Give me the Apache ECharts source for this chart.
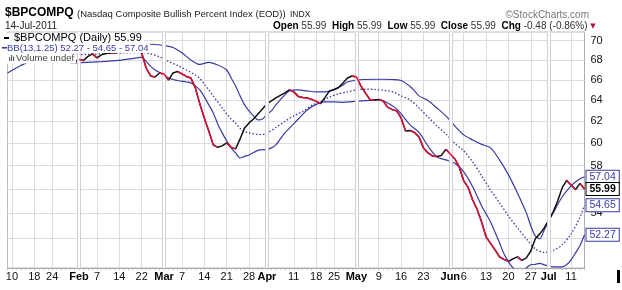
<!DOCTYPE html>
<html>
<head>
<meta charset="utf-8">
<title>$BPCOMPQ</title>
<script src="https://cdn.jsdelivr.net/npm/echarts@6/dist/echarts.min.js"></script>
<style>
html, body { margin: 0; padding: 0; background: #fff; }
#main { width: 622px; height: 290px; }
</style>
</head>
<body>
<div id="main"></div>
<script type="text/javascript">
// trading days, 2011-01-07 .. 2011-07-14 (NYSE holidays skipped)
var holidays = ['01-17', '02-21', '04-22', '05-30', '07-04'];
var days = [];
(function () {
    var d = new Date('2011-01-07T00:00:00Z');
    var end = new Date('2011-07-14T00:00:00Z');
    while (d <= end) {
        var s = d.toISOString().slice(5, 10);
        var wd = d.getUTCDay();
        if (wd !== 0 && wd !== 6 && holidays.indexOf(s) < 0) days.push(s);
        d.setUTCDate(d.getUTCDate() + 1);
    }
})();

var tickDates = ['01-10', '01-18', '01-24', '02-01', '02-07', '02-14', '02-22', '03-01', '03-07', '03-14',
    '03-21', '03-28', '04-01', '04-11', '04-18', '04-25', '05-02', '05-09', '05-16', '05-23',
    '06-01', '06-06', '06-13', '06-20', '06-27', '07-01', '07-11'];
var monthStarts = ['02-01', '03-01', '04-01', '05-02', '06-01', '07-01'];
var monthNames = ['Jan', 'Feb', 'Mar', 'Apr', 'May', 'Jun', 'Jul'];
var yTicks = [52, 54, 56, 58, 60, 62, 64, 66, 68, 70];
var yMin = 49.72, yMax = 70.92;

// $BPCOMPQ daily close (first 15 days sit behind the legend)
var price = [
    null, null, null, null, null, null, null, null, null, null, null, null, null, null, null,
    67.80, 68.05, 67.95, 68.36, 68.62, 68.21, 68.52, 68.67, 68.72, 68.70,
    68.83, 68.93, 69.03, 68.98, 68.93, 68.72, 67.18, 66.38, 66.28, 66.68,
    66.58, 65.98, 66.68, 66.83, 66.58, 66.33, 66.18, 65.20, 63.65, 62.32,
    61.11, 59.84, 59.62, 59.75, 60.02, 59.62, 59.48, 60.38, 61.39, 61.85,
    62.22, 62.69, 63.17, 63.65, 63.93, 64.22, 64.47, 64.71, 65.00, 64.81,
    64.37, 64.27, 64.22, 64.08, 63.89, 63.69, 64.27, 64.90, 65.05, 65.24,
    65.69, 66.18, 66.38, 66.28, 65.39, 64.71, 64.08, 64.03, 64.08, 63.93,
    63.31, 63.12, 62.98, 62.32, 61.11, 61.15, 60.97, 60.56, 59.57, 59.12,
    58.85, 58.81, 58.90, 59.44, 59.03, 58.59, 57.89, 56.68, 56.13, 55.08,
    54.30, 53.29, 52.10, 51.60, 51.09, 50.56, 50.37, 50.22, 50.41, 50.56,
    50.29, 50.48, 51.01, 51.95, 52.34, 52.81, 53.45, 54.10, 55.00, 56.09,
    56.73, 56.34, 55.96, 56.47, 55.99
];

// BB(13,1.25)
var upperBand = [
    ['01-07', 69.35], ['02-22', 69.65], ['02-23', 69.65], ['02-25', 69.60], ['03-01', 69.50],
    ['03-03', 69.29], ['03-07', 68.73], ['03-09', 68.00], ['03-11', 67.54], ['03-15', 67.75],
    ['03-17', 67.49], ['03-21', 66.98], ['03-22', 66.18], ['03-23', 65.39], ['03-24', 64.42],
    ['03-25', 63.55], ['03-28', 62.98], ['03-29', 62.51], ['03-30', 62.13], ['03-31', 62.22],
    ['04-01', 62.66], ['04-04', 62.98], ['04-05', 63.55], ['04-07', 64.52], ['04-08', 64.90],
    ['04-12', 65.00], ['04-14', 64.90], ['04-18', 64.81], ['04-20', 64.81], ['04-25', 65.00],
    ['04-27', 65.49], ['04-28', 65.78], ['05-02', 65.98], ['05-04', 66.03], ['05-09', 66.05],
    ['05-12', 66.03], ['05-16', 65.93], ['05-18', 65.34], ['05-19', 64.90], ['05-20', 64.42],
    ['05-24', 63.98], ['05-26', 63.26], ['05-31', 62.51], ['06-02', 61.57], ['06-06', 60.75],
    ['06-08', 60.29], ['06-10', 59.89], ['06-14', 59.57], ['06-16', 58.50], ['06-20', 57.20],
    ['06-22', 55.67], ['06-24', 54.02], ['06-27', 52.97], ['06-28', 52.18], ['06-29', 51.95],
    ['06-30', 52.65], ['07-05', 54.02], ['07-07', 55.33], ['07-11', 56.26], ['07-13', 56.86],
    ['07-14', 57.04]
];
var midBand = [
    ['01-07', 68.21], ['01-31', 68.52], ['02-03', 68.57], ['02-09', 68.65], ['02-15', 68.72],
    ['02-22', 68.77], ['02-24', 68.62], ['02-28', 68.31], ['03-02', 67.85], ['03-04', 67.44],
    ['03-08', 66.98], ['03-10', 66.48], ['03-11', 66.13], ['03-14', 65.59], ['03-16', 64.42],
    ['03-18', 63.26], ['03-21', 62.70], ['03-22', 62.22], ['03-23', 61.85], ['03-24', 61.34],
    ['03-25', 61.06], ['03-28', 60.93], ['03-30', 60.79], ['03-31', 60.79], ['04-01', 60.90],
    ['04-05', 61.43], ['04-07', 61.99], ['04-11', 62.51], ['04-13', 62.93], ['04-15', 63.50],
    ['04-19', 63.84], ['04-21', 64.32], ['04-26', 64.61], ['04-28', 64.81], ['05-02', 65.00],
    ['05-04', 65.07], ['05-06', 65.05], ['05-10', 64.95], ['05-12', 64.84], ['05-16', 64.42],
    ['05-18', 64.03], ['05-20', 63.26], ['05-24', 62.41], ['05-26', 61.57], ['05-31', 60.84],
    ['06-02', 59.99], ['06-06', 59.30], ['06-08', 58.33], ['06-10', 57.11], ['06-14', 55.92],
    ['06-16', 54.83], ['06-20', 53.77], ['06-22', 52.81], ['06-24', 51.95], ['06-28', 51.17],
    ['06-30', 50.90], ['07-05', 51.05], ['07-07', 51.48], ['07-11', 52.34], ['07-13', 53.69],
    ['07-14', 54.65]
];
var lowerBand = [
    ['01-07', 66.68], ['01-12', 67.44], ['01-14', 67.80], ['01-24', 67.90], ['01-31', 67.70],
    ['02-07', 67.80], ['02-14', 67.95], ['02-18', 68.21], ['02-22', 68.28], ['02-23', 67.85],
    ['02-24', 67.34], ['02-25', 66.98], ['02-28', 66.73], ['03-02', 66.18], ['03-04', 65.93],
    ['03-08', 65.78], ['03-09', 65.69], ['03-10', 65.39], ['03-11', 65.00], ['03-14', 64.32],
    ['03-15', 63.55], ['03-16', 62.79], ['03-17', 61.76], ['03-18', 60.93], ['03-21', 60.20],
    ['03-22', 59.57], ['03-23', 59.12], ['03-24', 58.67], ['03-25', 58.81], ['03-28', 58.94],
    ['03-30', 59.35], ['04-01', 59.44], ['04-04', 59.57], ['04-05', 59.84], ['04-07', 60.93],
    ['04-08', 61.34], ['04-12', 62.22], ['04-14', 63.07], ['04-18', 63.60], ['04-20', 63.84],
    ['04-25', 63.84], ['04-27', 63.79], ['04-29', 63.87], ['05-04', 63.96], ['05-09', 64.03],
    ['05-11', 63.74], ['05-13', 63.17], ['05-16', 62.69], ['05-18', 61.67], ['05-20', 60.97],
    ['05-24', 59.75], ['05-26', 58.77], ['05-31', 58.50], ['06-02', 58.20], ['06-06', 57.46],
    ['06-08', 56.18], ['06-10', 54.59], ['06-13', 53.94], ['06-14', 53.29], ['06-16', 51.64],
    ['06-17', 50.79], ['06-20', 50.18], ['06-21', 49.73], ['06-22', 49.35], ['06-23', 49.43],
    ['06-24', 49.73], ['06-27', 49.96], ['06-28', 49.99], ['06-29', 50.07], ['06-30', 49.96],
    ['07-05', 49.81], ['07-07', 49.81], ['07-08', 49.96], ['07-11', 50.33], ['07-12', 50.86],
    ['07-13', 51.44], ['07-14', 52.27]
];

var blue = '#3a3aa6';
var red = '#e0103c';
var font = '"Liberation Sans", Arial, sans-serif';

// chart is drawn on a log scale: feed ln(value) to a linear axis
function lnPairs(arr) {
    return arr.map(function (p) { return [p[0], Math.log(p[1])]; });
}
function last(arr) { return arr[arr.length - 1][1].toFixed(2); }

// falling days are drawn red on top of the black line; runs alternate
// between two series so that neighbouring runs never get joined
var redA = days.map(function () { return null; });
var redB = days.map(function () { return null; });
var run = 0, inRun = false;
for (var i = 0; i < price.length - 1; i++) {
    var falling = price[i] != null && price[i + 1] != null && price[i + 1] < price[i];
    if (falling) {
        if (!inRun) { run++; inRun = true; }
        var t = run % 2 ? redA : redB;
        t[i] = Math.log(price[i]);
        t[i + 1] = Math.log(price[i + 1]);
    } else {
        inRun = false;
    }
}

var monthMarks = [];
monthStarts.forEach(function (d) {
    monthMarks.push({ xAxis: d, lineStyle: { color: '#d2d2d2', width: 4, type: 'solid' } });
    monthMarks.push({ xAxis: d, lineStyle: { color: '#fff', width: 2, type: 'solid' } });
});

function endLabel(text, color, bold) {
    return {
        show: true,
        formatter: function () { return text; },
        color: color,
        fontSize: 10.5,
        fontFamily: font,
        fontWeight: bold ? 'bold' : 'normal',
        backgroundColor: '#fff',
        borderColor: color,
        borderWidth: 1,
        padding: [1, 3, 0, 3],
        distance: 2
    };
}

var myChart = echarts.init(document.getElementById('main'));
var option = {
    animation: false,
    textStyle: { fontFamily: font },
    grid: { left: 7.5, right: 37.5, top: 32, bottom: 22, show: true, borderColor: '#bdbdbd', borderWidth: 1 },
    xAxis: {
        type: 'category',
        data: days,
        boundaryGap: false,
        axisLine: { show: true, lineStyle: { color: '#aaa' } },
        axisTick: { show: true, interval: 0, length: 2, lineStyle: { color: '#bbb' } },
        axisLabel: {
            interval: function (idx, val) { return tickDates.indexOf(val) >= 0; },
            formatter: function (val) {
                if (monthStarts.indexOf(val) >= 0) return '{m|' + monthNames[parseInt(val.slice(0, 2), 10) - 1] + '}';
                return String(parseInt(val.slice(3), 10));
            },
            margin: 3,
            fontSize: 11,
            color: '#111',
            rich: { m: { fontWeight: 'bold', fontSize: 11, color: '#000' } }
        },
        splitLine: {
            show: true,
            interval: function (idx, val) { return tickDates.indexOf(val) >= 0; },
            lineStyle: { color: '#dcdcdc' }
        }
    },
    yAxis: {
        type: 'value',
        position: 'right',
        min: Math.log(yMin),
        max: Math.log(yMax),
        axisLine: { show: true, lineStyle: { color: '#aaa', type: 'dotted' } },
        axisTick: { show: false, customValues: yTicks.map(function (v) { return Math.log(v); }) },
        axisLabel: {
            customValues: yTicks.map(function (v) { return Math.log(v); }),
            formatter: function (v) { return Math.round(Math.exp(v)); },
            fontSize: 11,
            color: '#111',
            margin: 6
        },
        splitLine: { show: true, lineStyle: { color: '#dcdcdc' } }
    },
    series: [
        {
            type: 'line', data: [], z: 1, silent: true,
            markLine: { silent: true, symbol: 'none', label: { show: false }, animation: false, data: monthMarks }
        },
        {
            name: 'upper', type: 'line', z: 3, data: lnPairs(upperBand), smooth: 0.3, showSymbol: false,
            lineStyle: { color: blue, width: 1.2 }, endLabel: endLabel(last(upperBand), blue, false)
        },
        {
            name: 'mid', type: 'line', z: 3, data: lnPairs(midBand), smooth: 0.3, showSymbol: false,
            lineStyle: { color: blue, width: 1.3, type: [1.5, 2] }, endLabel: endLabel(last(midBand), blue, false)
        },
        {
            name: 'lower', type: 'line', z: 3, data: lnPairs(lowerBand), smooth: 0.3, showSymbol: false,
            lineStyle: { color: blue, width: 1.2 }, endLabel: endLabel(last(lowerBand), blue, false)
        },
        {
            name: 'price', type: 'line', z: 4,
            data: price.map(function (v) { return v == null ? null : Math.log(v); }),
            showSymbol: false, lineStyle: { color: '#111', width: 1.5 },
            endLabel: endLabel(price[price.length - 1].toFixed(2), '#000', true)
        },
        { type: 'line', z: 5, data: redA, showSymbol: false, lineStyle: { color: red, width: 1.5 } },
        { type: 'line', z: 5, data: redB, showSymbol: false, lineStyle: { color: red, width: 1.5 } }
    ],
    graphic: [
        { type: 'text', left: 5, top: 7, z: 100, style: { text: '$BPCOMPQ', font: 'bold 12px ' + font, fill: '#000' } },
        { type: 'text', left: 77, top: 9, z: 100, style: { text: '(Nasdaq Composite Bullish Percent Index (EOD))', font: '9.5px ' + font, fill: '#222' } },
        { type: 'text', left: 290, top: 10, z: 100, style: { text: 'INDX', font: '8.5px ' + font, fill: '#222' } },
        { type: 'text', right: 33, top: 10, z: 100, style: { text: '\u00a9StockCharts.com', font: '10px ' + font, fill: '#777' } },
        { type: 'text', left: 5, top: 21, z: 100, style: { text: '14-Jul-2011', font: '10px ' + font, fill: '#222' } },
        {
            type: 'text', left: 273, top: 21, z: 100,
            style: {
                text: '{b|Open} 55.99  {b|High} 55.99  {b|Low} 55.99  {b|Close} 55.99  {b|Chg} -0.48 (-0.86%) {t|\u25bc}',
                font: '10px ' + font, fill: '#333',
                rich: {
                    b: { font: 'bold 10px ' + font, fill: '#000' },
                    t: { font: '7px "DejaVu Sans"', fill: '#b0103a' }
                }
            }
        },
        // legend rows sit on white boxes over the plot
        { type: 'rect', z: 100, shape: { x: 3, y: 33, width: 141, height: 10 }, style: { fill: '#fff' } },
        { type: 'rect', z: 100, shape: { x: 3, y: 43, width: 147, height: 10 }, style: { fill: '#fff' } },
        { type: 'rect', z: 100, shape: { x: 3, y: 53, width: 73, height: 10.5 }, style: { fill: '#fff' } },
        { type: 'rect', z: 101, shape: { x: 4, y: 37, width: 5, height: 2 }, style: { fill: '#000' } },
        { type: 'text', left: 14, top: 32.5, z: 101, style: { text: '$BPCOMPQ (Daily) ' + price[price.length - 1].toFixed(2), font: '11px ' + font, fill: '#000' } },
        { type: 'rect', z: 101, shape: { x: 2, y: 47, width: 5, height: 1.6 }, style: { fill: blue } },
        { type: 'text', left: 7, top: 43, z: 101, style: { text: 'BB(13,1.25) ' + last(lowerBand) + ' - ' + last(midBand) + ' - ' + last(upperBand), font: '9.5px ' + font, fill: blue } },
        { type: 'rect', z: 101, shape: { x: 9, y: 57, width: 1.2, height: 4 }, style: { fill: '#666' } },
        { type: 'rect', z: 101, shape: { x: 11, y: 55, width: 1.2, height: 6 }, style: { fill: '#666' } },
        { type: 'rect', z: 101, shape: { x: 13, y: 56.5, width: 1.2, height: 4.5 }, style: { fill: '#666' } },
        { type: 'text', left: 16, top: 53, z: 101, style: { text: 'Volume undef', font: '9.5px ' + font, fill: '#444' } },
        { type: 'rect', z: 100, shape: { x: 617, y: 270, width: 3, height: 13 }, style: { fill: '#000' } }
    ]
};
myChart.setOption(option);
</script>
</body>
</html>
